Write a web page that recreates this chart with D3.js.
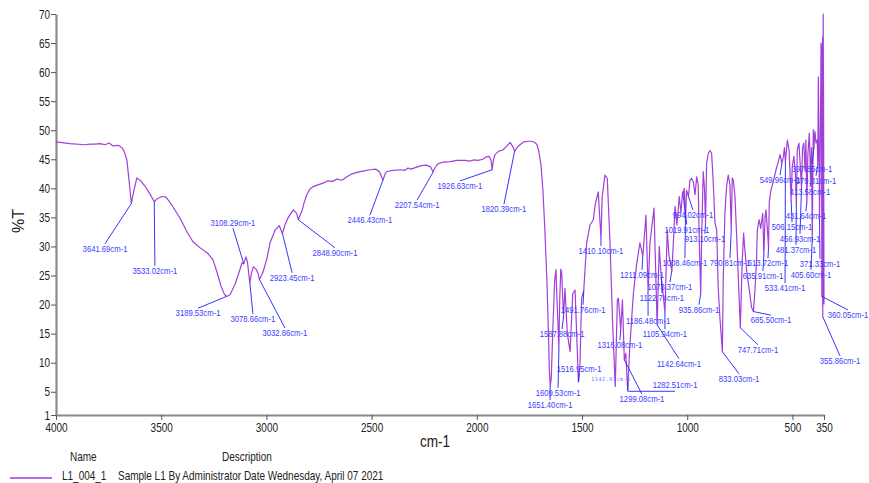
<!DOCTYPE html>
<html>
<head>
<meta charset="utf-8">
<script src="https://cdn.jsdelivr.net/npm/d3@7"></script>
<style>
  body { margin: 0; background: #fff; }
  svg { display: block; }
  text { font-family: "Liberation Sans", Arial, sans-serif; }
</style>
</head>
<body>
<svg id="canvas"></svg>
<script>
////////////////////////////////////////////////////////////////////////////////
// Spectrum data.
////////////////////////////////////////////////////////////////////////////////
var waveNumbers = [
  4000, 3934, 3862, 3838, 3815, 3791, 3767, 3748, 3729, 3705, 3686, 3677, 3663, 3653, 3642, 3634,
  3616, 3601, 3577, 3553, 3533, 3520, 3496, 3477, 3449, 3411, 3377, 3349, 3316, 3278, 3254, 3235,
  3216, 3200, 3190, 3173, 3149, 3126, 3116, 3108, 3097, 3090, 3079, 3071, 3062, 3049, 3040, 3033,
  3016, 2997, 2983, 2959, 2939, 2924, 2912, 2896, 2872, 2856, 2849, 2832, 2821, 2808, 2793, 2777,
  2755, 2731, 2707, 2684, 2665, 2641, 2617, 2593, 2565, 2536, 2508, 2479, 2462, 2446, 2436, 2428,
  2398, 2365, 2341, 2327, 2313, 2289, 2265, 2239, 2220, 2208, 2200, 2185, 2161, 2127, 2094, 2056,
  2032, 2013, 1994, 1971, 1957, 1942, 1933, 1927, 1921, 1914, 1895, 1876, 1857, 1842, 1828, 1820,
  1809, 1795, 1776, 1757, 1738, 1724, 1714, 1705, 1695, 1686, 1677, 1667, 1660, 1655, 1651, 1646,
  1639, 1630, 1624, 1619, 1610, 1606, 1601, 1597, 1588, 1581, 1570, 1557, 1544, 1533, 1525, 1517,
  1510, 1502, 1492, 1478, 1462, 1446, 1438, 1423, 1410, 1404, 1391, 1380, 1367, 1354, 1342, 1332,
  1327, 1316, 1308, 1299, 1292, 1283, 1273, 1256, 1240, 1225, 1211, 1196, 1186, 1177, 1158, 1143,
  1133, 1123, 1115, 1106, 1095, 1087, 1073, 1064, 1058, 1049, 1038, 1030, 1022, 1020, 1014, 1008.5,
  1003, 994, 987, 979, 971, 963, 955, 948, 943, 935.9, 932, 924, 918, 913, 908, 900,
  892, 884, 877, 868, 860, 853, 845, 833, 829, 821, 813, 805, 797, 790.8, 786, 781,
  773, 765, 747.7, 739, 732, 728, 718, 705, 694, 685.5, 678, 671, 667, 658, 651, 641,
  635.9, 630, 626, 620, 613.7, 610, 602, 591, 578, 567, 559, 550, 543, 538, 533.4, 524,
  516, 506.2, 501, 493, 486, 481.4, 477, 469, 463, 456.9, 452, 446, 440, 436, 431.6, 427,
  420, 417, 413.6, 409.5, 405.6, 401, 397.9, 393, 388, 382, 379.3, 377, 374, 371.3, 367, 364,
  362, 360.1, 358, 356.5, 355.9, 354, 352, 350
];

var transmittance = [
  48.0, 47.7, 47.5, 47.6, 47.6, 47.7, 47.5, 47.8, 47.3, 47.4, 47.0, 46.4, 44.9, 41.4, 37.4, 38.9,
  41.8, 41.4, 40.4, 39.0, 37.7, 38.2, 38.6, 38.5, 37.1, 34.9, 32.5, 30.8, 29.8, 28.8, 27.7, 25.6,
  23.2, 21.8, 21.4, 21.7, 23.5, 26.0, 27.2, 27.0, 28.2, 27.3, 23.7, 25.4, 26.5, 26.1, 25.4, 24.3,
  25.6, 28.0, 30.6, 32.8, 33.6, 32.2, 33.7, 35.0, 36.3, 35.7, 34.6, 36.0, 37.5, 38.9, 39.9, 40.3,
  40.6, 40.9, 41.3, 41.2, 41.6, 41.4, 42.0, 42.5, 42.8, 43.0, 43.2, 43.3, 42.8, 41.4, 42.5, 42.9,
  43.1, 43.2, 43.1, 43.5, 43.3, 43.6, 43.9, 44.0, 43.7, 42.8, 43.5, 44.2, 44.5, 44.6, 44.8, 44.8,
  44.7, 44.9, 44.8, 45.0, 45.4, 45.5, 44.9, 43.2, 44.9, 45.8, 46.4, 46.6, 47.3, 47.9, 47.1, 46.4,
  47.0, 47.5, 48.0, 48.1, 48.1, 47.9, 47.5, 46.3, 44.0, 39.7, 33.2, 24.2, 15.6, 8.4, 6.0, 7.4,
  15.6, 24.2, 26.0, 20.8, 12.7, 20.8, 26.1, 25.6, 17.9, 22.8, 15.1, 11.9, 21.9, 22.5, 14.5, 6.7,
  9.3, 21.1, 22.3, 30.6, 33.7, 34.6, 37.1, 39.4, 31.4, 38.6, 42.3, 41.7, 30.6, 16.2, 5.9, 20.8,
  21.1, 15.6, 20.8, 10.5, 11.6, 5.3, 12.8, 21.9, 27.1, 30.6, 28.4, 35.4, 22.3, 30.6, 36.6, 16.5,
  30.0, 24.6, 22.0, 18.6, 32.8, 28.5, 25.8, 32.0, 36.9, 33.7, 38.6, 35.8, 39.4, 38.9, 40.0, 34.6,
  39.7, 38.6, 41.4, 41.7, 41.1, 38.9, 42.0, 40.6, 31.1, 21.9, 30.3, 42.9, 40.0, 34.0, 44.3, 46.0,
  46.5, 46.0, 41.4, 34.0, 32.8, 23.1, 17.9, 11.9, 24.2, 35.7, 40.3, 42.3, 40.6, 32.8, 41.8, 41.4,
  38.6, 31.7, 16.0, 27.2, 32.3, 30.3, 26.0, 22.5, 19.5, 18.8, 22.5, 27.2, 32.8, 34.6, 33.1, 35.7,
  28.5, 35.0, 36.3, 33.5, 29.9, 37.7, 39.7, 41.2, 43.2, 44.6, 45.8, 44.3, 45.5, 47.0, 44.6, 48.3,
  46.6, 38.0, 43.7, 45.5, 42.5, 37.0, 46.6, 47.8, 44.0, 40.0, 47.0, 47.8, 43.0, 48.3, 37.5, 45.5,
  49.5, 46.0, 40.6, 47.0, 31.5, 50.1, 47.0, 49.8, 47.8, 48.3, 44.0, 59.2, 49.5, 34.6, 50.0, 65.0,
  63.5, 21.4, 63.5, 66.0, 17.9, 70.0, 55.0, 20.0
];

// Axis ticks.
var xTicks = [4000, 3500, 3000, 2500, 2000, 1500, 1000, 500, 350];
var yTicks = [1, 5, 10, 15, 20, 25, 30, 35, 40, 45, 50, 55, 60, 65, 70];

// Peak annotations: peak wavenumber, %T at the peak, label wavenumber, label %T.
var peakWn = [3641.69, 3533.02, 3108.29, 3189.53, 3078.66, 3032.86, 2923.45, 2848.90, 2446.43,
  2207.54, 1926.63, 1820.39, 1651.40, 1609.53, 1587.88, 1516.95, 1491.76, 1410.10, 1316.08,
  1299.08, 1282.51, 1211.09, 1186.48, 1142.64, 1122.74, 1105.94, 1073.37, 1019.91, 1008.46,
  994.02, 935.86, 913.10, 833.03, 790.81, 747.71, 685.50, 635.91, 613.72, 549.96, 533.41,
  506.15, 481.37, 456.93, 431.64, 413.58, 405.60, 397.85, 379.31, 371.33, 360.05, 355.86];
var peakT = [37.4, 37.7, 27.1, 21.4, 23.7, 24.3, 32.2, 34.6, 41.4, 42.8, 43.2, 46.4, 6.0, 12.7,
  17.9, 6.7, 22.3, 31.4, 15.6, 10.5, 6.7, 28.4, 22.3, 16.5, 24.6, 18.6, 25.8, 38.9, 34.6, 38.6,
  21.9, 34.0, 11.9, 32.8, 16.0, 18.8, 28.5, 29.9, 44.3, 44.6, 38.0, 37.0, 40.0, 37.5, 40.6, 31.5,
  47.0, 44.0, 34.6, 21.4, 17.9];
var labelWn = [3767, 3530, 3159, 3325, 3064, 2912, 2878, 2674, 2508, 2284, 2080, 1871, 1652, 1614,
  1595, 1514, 1495, 1410, 1320, 1215, 1058, 1215, 1186, 1039, 1120, 1106, 1082, 1002, 1011, 973,
  944, 916, 754, 797, 664, 602, 640, 616, 559, 535, 502, 483, 464, 436, 417, 412, 407, 388, 369,
  236, 274];
var labelT = [29.1, 25.3, 33.5, 18.0, 17.0, 14.6, 24.1, 28.4, 34.0, 36.6, 39.9, 35.9, 2.2, 4.3,
  14.4, 8.4, 18.6, 28.7, 12.5, 3.2, 5.6, 24.6, 16.7, 9.3, 20.6, 14.4, 22.5, 32.4, 26.6, 34.9,
  18.6, 30.8, 6.7, 26.6, 11.7, 16.8, 24.4, 26.6, 40.9, 22.3, 32.8, 28.9, 30.8, 34.7, 38.9, 24.6,
  42.8, 40.8, 26.5, 17.7, 9.8];

// Faint minor label.
var minorLabel = { text: '1342.07cm-1', wn: 1362, t: 6.9 };

// Legend entries.
var legendName = 'L1_004_1';
var legendDescription = 'Sample L1 By Administrator Date Wednesday, April 07 2021';

////////////////////////////////////////////////////////////////////////////////
// Canvas and scales.
////////////////////////////////////////////////////////////////////////////////
var canvas = { width: 869, height: 483 };
var plot = { left: 56, right: 824, top: 14, bottom: 415 };

// Horizontal squeeze that mimics a narrow (Arial Narrow like) face.
var squeeze = 0.8;

var colours = {
  spectrum: '#a23fd8',
  legend: '#b36be6',
  peak: '#1f1fff',
  peakText: '#3b3bff',
  axis: '#8a8a8a',
  text: '#222'
};

var svg = d3.select('#canvas')
  .attr('width', canvas.width)
  .attr('height', canvas.height);

// Places a squeezed text at (x, y).
function narrowText(parent, x, y, str, size) {
  return parent.append('text')
    .attr('transform', 'translate(' + x + ',' + y + ') scale(' + squeeze + ',1)')
    .style('font-size', size + 'px')
    .text(str);
}

var xScale = d3.scaleLinear().domain([4000, 350]).range([plot.left, plot.right]);
var yScale = d3.scaleLinear().domain([1, 70]).range([plot.bottom, plot.top]);

// Axes.
var xAxis = svg.append('g')
  .attr('transform', 'translate(0,' + plot.bottom + ')')
  .call(d3.axisBottom(xScale).tickValues(xTicks).tickSize(5).tickSizeOuter(0).tickPadding(3)
    .tickFormat(d3.format('d')));

var yAxis = svg.append('g')
  .attr('transform', 'translate(' + plot.left + ',0)')
  .call(d3.axisLeft(yScale).tickValues(yTicks).tickSize(5).tickSizeOuter(0).tickPadding(1)
    .tickFormat(d3.format('d')));

[xAxis, yAxis].forEach(function(ax) {
  ax.select('.domain').attr('stroke', colours.axis).attr('stroke-width', 2.2);
  ax.selectAll('.tick line').attr('stroke', '#555').attr('stroke-width', 1);
  ax.selectAll('.tick text')
    .attr('fill', colours.text)
    .style('font-family', '"Liberation Sans", Arial, sans-serif')
    .style('font-size', '12.5px')
    .attr('transform', 'scale(' + squeeze + ',1)');
});
yAxis.selectAll('.tick text').attr('x', -6 / squeeze);

// Axis titles.
narrowText(svg, 435, 447, 'cm-1', 17)
  .attr('text-anchor', 'middle')
  .attr('fill', colours.text);

svg.append('text')
  .attr('transform', 'translate(24,221) rotate(-90)')
  .attr('text-anchor', 'middle')
  .attr('fill', colours.text)
  .style('font-size', '16px')
  .text('%T');

// Spectrum.
var spectrum = waveNumbers.map(function(w, i) { return [w, transmittance[i]]; });

svg.append('path')
  .datum(spectrum)
  .attr('fill', 'none')
  .attr('stroke', colours.spectrum)
  .attr('stroke-width', 1.2)
  .attr('stroke-linejoin', 'round')
  .attr('d', d3.line()
    .x(function(d) { return xScale(d[0]); })
    .y(function(d) { return yScale(d[1]); }));

// Peak labels and leader lines.
var peaks = svg.append('g');
peakWn.forEach(function(w, i) {
  var px = xScale(w), py = yScale(peakT[i]);
  var lx = xScale(labelWn[i]), ly = yScale(labelT[i]);
  var pts;
  if (w === 1282.51) {
    // Elbow leader under the label.
    pts = [[px, py], [px, ly + 3], [lx, ly + 3]];
  } else if (py < ly - 8) {
    pts = [[px, py], [lx, ly - 8]];
  } else {
    pts = [[px, py], [lx, ly + 2]];
  }
  peaks.append('path')
    .attr('d', d3.line()(pts))
    .attr('fill', 'none')
    .attr('stroke', colours.peak)
    .attr('stroke-width', 0.9);
  narrowText(peaks, lx, ly, w.toFixed(2) + 'cm-1', 9.6)
    .attr('text-anchor', 'middle')
    .attr('fill', colours.peakText);
});

peaks.append('text')
  .attr('x', xScale(minorLabel.wn)).attr('y', yScale(minorLabel.t))
  .attr('text-anchor', 'middle')
  .attr('fill', '#6b6bff')
  .style('font-family', 'DejaVu Sans Mono, monospace')
  .style('font-size', '5px')
  .style('letter-spacing', '0.6px')
  .text(minorLabel.text);

// Legend.
var legend = svg.append('g').attr('fill', colours.text);
narrowText(legend, 70, 461, 'Name', 12.5);
narrowText(legend, 222, 461, 'Description', 12.5);
legend.append('line')
  .attr('x1', 10).attr('x2', 52).attr('y1', 478).attr('y2', 478)
  .attr('stroke', colours.legend).attr('stroke-width', 2);
narrowText(legend, 62, 480, legendName, 12.5);
narrowText(legend, 118, 480, legendDescription, 12.5);
</script>
</body>
</html>
